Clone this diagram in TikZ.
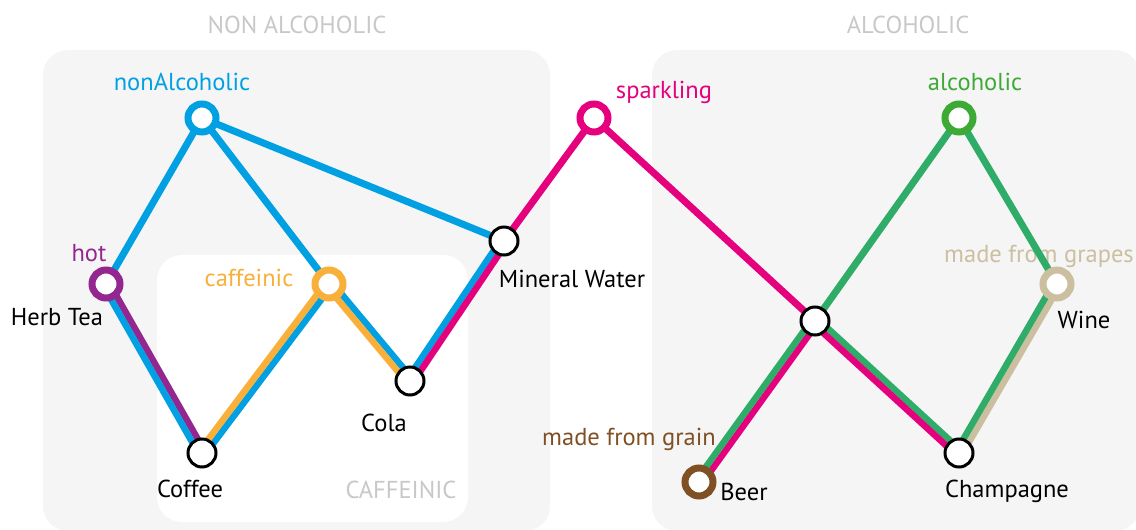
\documentclass[tikz,border=0pt]{standalone}
\usepackage{fontspec}
\setmainfont{PT Sans}
\usepackage{tikz}
\usetikzlibrary{
	calc,
	backgrounds
}
\definecolor{PanelGray}{RGB}{245,245,245}
\definecolor{TitleGray}{RGB}{200,200,200}
\definecolor{NetBlue}{RGB}{0,160,227}
\definecolor{NetPurple}{RGB}{147,39,143}
\definecolor{NetOrange}{RGB}{249,176,59}
\definecolor{NetPink}{RGB}{229,0,125}
\definecolor{RingGreen}{RGB}{61,170,53}
\definecolor{NetGreen}{RGB}{46,172,104}
\definecolor{NetBeige}{RGB}{204,191,160}
\definecolor{NetBrown}{RGB}{127,80,36}
\newcommand{\trackgap}{3.2pt}
\tikzset{
	station/.style={circle, draw=black, fill=white, line width=3pt, minimum size=28pt, inner sep=0pt},
	hub/.style={station, line width=7pt},
	lbl/.style={font=\fontsize{24.5}{29}\selectfont, inner sep=0pt, anchor=base},
	wideline/.style={line width=7pt},
	pairline/.style={line width=6.5pt},
	panel/.style={fill=PanelGray, rounded corners=25pt}
}

\begin{document}
\begin{tikzpicture}[x=1pt, y=-1pt]
		\useasboundingbox (0,0) rectangle (1136,530);
		
		% 站点
		\node[hub, draw=NetBlue] (nonAlc) at (202,118) {};
		\node[hub, draw=NetPurple] (herb) at (106,284) {};
		\node[hub, draw=NetOrange] (caff) at (329,284) {};
		\node[station] (coffee) at (202,453) {};
		\node[station] (cola) at (410,381) {};
		\node[station] (mineral) at (504,241) {};
		\node[hub, draw=NetPink] (spark) at (594,118) {};
		\node[station] (cross) at (815,321) {};
		\node[hub, draw=RingGreen] (alc) at (959,118) {};
		\node[hub, draw=NetBeige] (wine) at (1057,284) {};
		\node[station] (champ) at (959,453) {};
		\node[hub, draw=NetBrown] (beer) at (699,482) {};
		
		\begin{pgfonlayer}{background}
		% 背景
		\fill[panel] (43,50) rectangle (550,531);
		\fill[panel] (652,50) rectangle (1140,531);
		\fill[white, rounded corners=25pt] (157,255) rectangle (468,522);
		
		% 文字
		\node[lbl, TitleGray] (tNon) at (297,34) {NON ALCOHOLIC};
		\node[lbl, TitleGray] (tAlc) at (908,34) {ALCOHOLIC};
		\node[lbl, TitleGray] (tCaff) at (401,498) {CAFFEINIC};
		\node[lbl, NetBlue] (lNonAlc) at (182,90) {nonAlcoholic};
		\node[lbl, NetPurple] (lHot) at (89,261) {hot};
		\node[lbl] (lHerb) at (57,325) {Herb Tea};
		\node[lbl, NetOrange] (lCaff) at (249,286) {caffeinic};
		\node[lbl] (lCoffee) at (190,497) {Coffee};
		\node[lbl] (lCola) at (384,431) {Cola};
		\node[lbl] (lMineral) at (572,287) {Mineral Water};
		\node[lbl, NetPink] (lSpark) at (664,98) {sparkling};
		\node[lbl, RingGreen] (lAlc) at (975,90) {alcoholic};
		\node[lbl, NetBeige] (lGrapes) at (1039,262) {made from grapes};
		\node[lbl] (lWine) at (1084,328) {Wine};
		\node[lbl] (lChamp) at (1007,497) {Champagne};
		\node[lbl] (lBeer) at (744,500) {Beer};
		\node[lbl, NetBrown] (lGrain) at (629,445) {made from grain};
		
		% 线路
		\draw[wideline, NetBlue] (nonAlc.center) -- (herb.center);
		\draw[wideline, NetBlue] (nonAlc.center) -- (caff.center);
		\draw[wideline, NetBlue] (nonAlc.center) -- (mineral.center);
		\draw[wideline, NetPink] (spark.center) -- (mineral.center);
		\draw[wideline, NetPink] (spark.center) -- (cross.center);
		\draw[wideline, NetGreen] (alc.center) -- (cross.center);
		\draw[wideline, NetGreen] (alc.center) -- (wine.center);
		
		% 双线
		\draw[pairline, NetPurple] ($(herb.center)!\trackgap!90:(coffee.center)$) -- ($(coffee.center)!\trackgap!-90:(herb.center)$);
		\draw[pairline, NetBlue] ($(herb.center)!\trackgap!-90:(coffee.center)$) -- ($(coffee.center)!\trackgap!90:(herb.center)$);
		\draw[pairline, NetBlue] ($(caff.center)!\trackgap!90:(coffee.center)$) -- ($(coffee.center)!\trackgap!-90:(caff.center)$);
		\draw[pairline, NetOrange] ($(caff.center)!\trackgap!-90:(coffee.center)$) -- ($(coffee.center)!\trackgap!90:(caff.center)$);
		\draw[pairline, NetBlue] ($(caff.center)!\trackgap!90:(cola.center)$) -- ($(cola.center)!\trackgap!-90:(caff.center)$);
		\draw[pairline, NetOrange] ($(caff.center)!\trackgap!-90:(cola.center)$) -- ($(cola.center)!\trackgap!90:(caff.center)$);
		\draw[pairline, NetBlue] ($(cola.center)!\trackgap!90:(mineral.center)$) -- ($(mineral.center)!\trackgap!-90:(cola.center)$);
		\draw[pairline, NetPink] ($(cola.center)!\trackgap!-90:(mineral.center)$) -- ($(mineral.center)!\trackgap!90:(cola.center)$);
		\draw[pairline, NetPink] ($(cross.center)!\trackgap!90:(beer.center)$) -- ($(beer.center)!\trackgap!-90:(cross.center)$);
		\draw[pairline, NetGreen] ($(cross.center)!\trackgap!-90:(beer.center)$) -- ($(beer.center)!\trackgap!90:(cross.center)$);
		\draw[pairline, NetGreen] ($(cross.center)!\trackgap!90:(champ.center)$) -- ($(champ.center)!\trackgap!-90:(cross.center)$);
		\draw[pairline, NetPink] ($(cross.center)!\trackgap!-90:(champ.center)$) -- ($(champ.center)!\trackgap!90:(cross.center)$);
		\draw[pairline, NetBeige] ($(wine.center)!\trackgap!90:(champ.center)$) -- ($(champ.center)!\trackgap!-90:(wine.center)$);
		\draw[pairline, NetGreen] ($(wine.center)!\trackgap!-90:(champ.center)$) -- ($(champ.center)!\trackgap!90:(wine.center)$);
		\end{pgfonlayer}
	\end{tikzpicture}
\end{document}
